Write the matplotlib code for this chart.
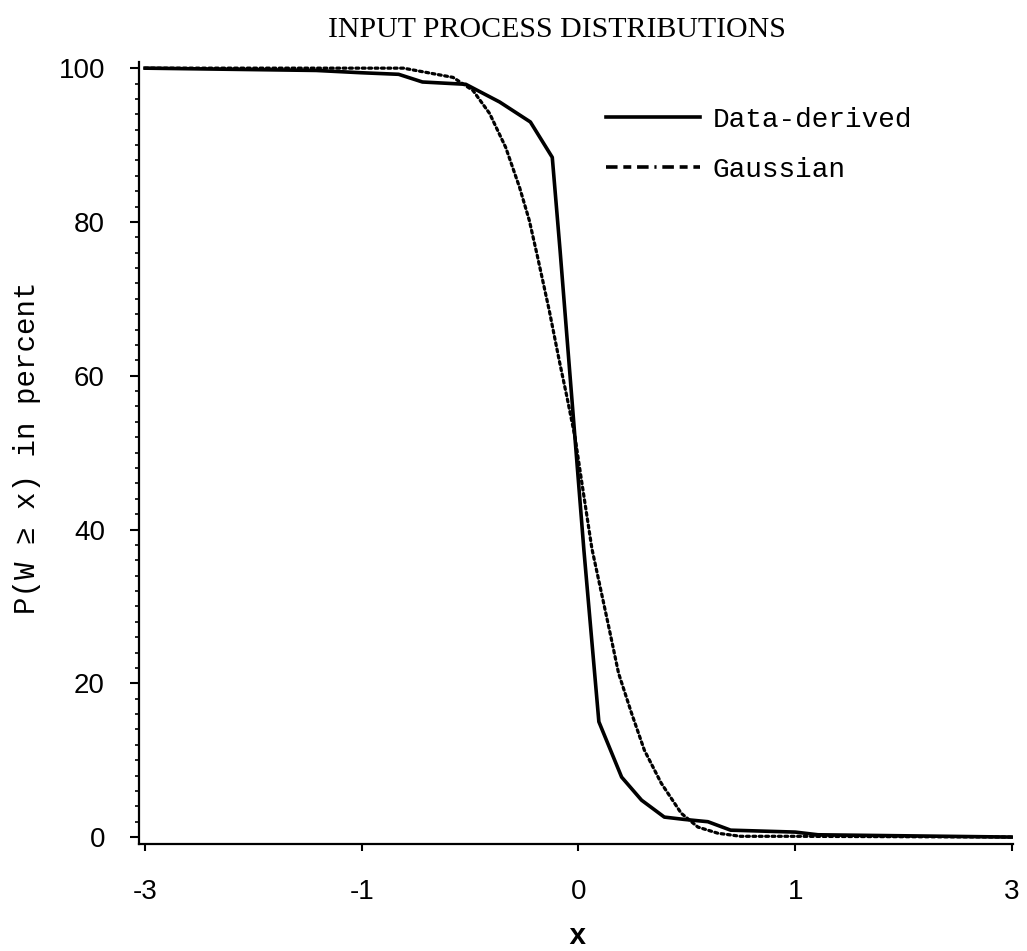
import numpy as np
import matplotlib
matplotlib.use("Agg")
import matplotlib.pyplot as plt
from matplotlib.lines import Line2D

# ---- data ----
data_x = [-3.0, -1.42, -1.0, -0.83, -0.72, -0.52, -0.364, -0.222, -0.121, -0.085,
          -0.03, 0.025, 0.094, 0.199, 0.291, 0.396, 0.487, 0.597, 0.702, 1.0, 1.21, 3.0]
data_y = [100.0, 99.7, 99.4, 99.2, 98.2, 97.9, 95.6, 93.0, 88.4, 76.3,
          56.8, 37.3, 15.0, 7.8, 4.8, 2.6, 2.3, 2.0, 0.9, 0.65, 0.3, 0.0]

gauss_x = [-3.0, -1.10, -0.808, -0.579, -0.487, -0.41, -0.336, -0.272, -0.227, -0.19,
           -0.135, -0.089, -0.053, -0.016, 0.016, 0.062, 0.14, 0.185, 0.245, 0.304,
           0.382, 0.474, 0.551, 0.643, 0.748, 1.0, 3.0]
gauss_y = [100.0, 100.0, 100.0, 98.8, 97.1, 94.1, 89.7, 84.5, 80.2, 75.6,
           68.5, 62.0, 57.2, 52.0, 46.0, 37.5, 27.3, 21.3, 16.1, 11.3,
           7.0, 3.1, 1.3, 0.5, 0.1, 0.1, 0.0]

x_ticks = [-3, -1, 0, 1, 3]
x_ticklabels = ["-3", "-1", "0", "1", "3"]
y_ticks = [0, 20, 40, 60, 80, 100]
series_labels = ["Data-derived", "Gaussian"]

# piecewise axis: equal spacing between the labelled ticks
_kx = [-5, -3, -1, 0, 1, 3, 5]
_ku = [-3, -2, -1, 0, 1, 2, 3]
def fwd(x):
    return np.interp(np.asarray(x, dtype=float), _kx, _ku)
def inv(u):
    return np.interp(np.asarray(u, dtype=float), _ku, _kx)

mono = ["Liberation Mono", "DejaVu Sans Mono"]

fig = plt.figure(figsize=(10.27, 9.51), dpi=100)
ax = fig.add_axes([139/1027, 1 - 844/951, (1013-139)/1027, (844-62)/951])
ax.set_xscale("function", functions=(fwd, inv))

ax.plot(data_x, data_y, color="black", lw=2.6, solid_joinstyle="round")
ax.plot(gauss_x, gauss_y, color="black", lw=2.3, linestyle=(0, (0.9, 1.1)),
        dash_capstyle="round")

ax.set_xlim(-3.056, 3.01)
ax.set_ylim(-0.9, 100.8)

for s in ["top", "right"]:
    ax.spines[s].set_visible(False)
for s in ["left", "bottom"]:
    ax.spines[s].set_linewidth(1.6)

ax.set_xticks(x_ticks)
ax.set_xticklabels(x_ticklabels)
ax.xaxis.set_minor_locator(matplotlib.ticker.NullLocator())
ax.set_yticks(y_ticks)
ax.set_yticks(np.arange(0, 101, 2), minor=True)
ax.tick_params(axis="x", which="major", direction="out", length=5, width=1.5,
               pad=20, labelsize=20)
ax.tick_params(axis="y", which="major", direction="out", length=6.5, width=1.5,
               pad=18, labelsize=20)
ax.tick_params(axis="y", which="minor", direction="out", length=3, width=1.2)
for lab in ax.get_xticklabels() + ax.get_yticklabels():
    lab.set_fontfamily(["Liberation Sans", "DejaVu Sans"])

fig.text(557/1027, 1 - 30/951, "INPUT PROCESS DISTRIBUTIONS",
         ha="center", va="center", fontsize=21.5, family=["Liberation Serif", "DejaVu Serif"])
fig.text(577/1027, 1 - 936/951, "x", ha="center", va="center", fontsize=21,
         fontweight="bold", family=mono)
fig.text(27/1027, 1 - 448/951, "P(W ≥ x) in percent", ha="center", va="center",
         rotation=90, fontsize=21, family=mono)

handles = [Line2D([], [], color="black", lw=2.6),
           Line2D([], [], color="black", lw=2.6, linestyle=(0, (3.2, 1.6, 2.2, 1.6, 3.2, 1.6, 0.6, 1.6)))]
leg = ax.legend(handles, series_labels, loc="upper left",
                bbox_to_anchor=(606/1027, 1 - 107/951), bbox_transform=fig.transFigure,
                frameon=False, handlelength=3.4, handletextpad=0.45, labelspacing=0.85,
                prop={"family": mono, "size": 20}, borderpad=0, borderaxespad=0)

fig.savefig("out.png", dpi=100)
